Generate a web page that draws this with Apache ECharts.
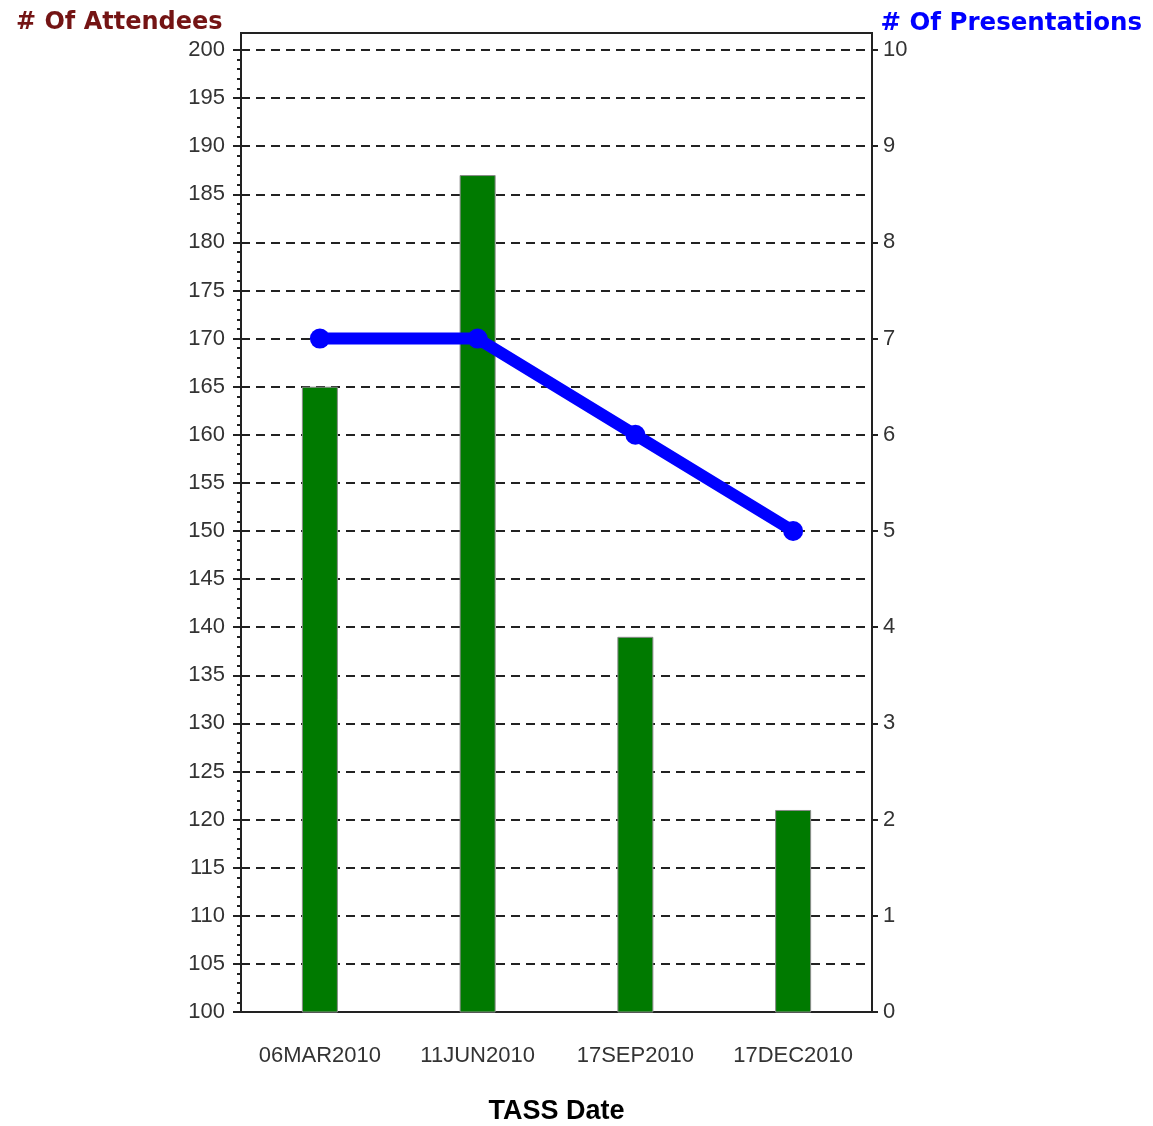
<!DOCTYPE html>
<html>
<head>
<meta charset="utf-8">
<script src="https://cdn.jsdelivr.net/npm/echarts@6/dist/echarts.min.js"></script>
<style>html,body{margin:0;padding:0;background:#fff;}#c{width:1153px;height:1126px;}</style>
</head>
<body>
<div id="c"></div>
<script>
const categories = ['06MAR2010', '11JUN2010', '17SEP2010', '17DEC2010'];
const attendees = [165, 187, 139, 121];
const presentations = [7, 7, 6, 5];
const leftTitle = '# Of Attendees';
const rightTitle = '# Of Presentations';
const xTitle = 'TASS Date';

const chart = echarts.init(document.getElementById('c'));
chart.setOption({
  animation: false,
  backgroundColor: '#fff',
  title: [
    { text: leftTitle, left: 11, top: 6,
      textStyle: { color: '#741414', fontFamily: 'DejaVu Sans', fontWeight: 'bold', fontSize: 24 } },
    { text: rightTitle, right: 6, top: 6,
      textStyle: { color: '#0000ff', fontFamily: 'DejaVu Sans', fontWeight: 'bold', fontSize: 24.5 } }
  ],
  grid: [
    { left: 241, right: 281, top: 33, bottom: 114, show: true, borderColor: '#222', borderWidth: 2, backgroundColor: 'transparent', outerBoundsMode: 'none', containLabel: false },
    { left: 241, right: 281, top: 50, bottom: 114, outerBoundsMode: 'none', containLabel: false }
  ],
  xAxis: [
    { gridIndex: 0, type: 'category', data: categories, show: false },
    { gridIndex: 1, type: 'category', data: categories,
      axisLine: { show: false },
      axisTick: { show: false },
      axisLabel: { interval: 0, color: '#333', fontFamily: 'Liberation Sans', fontSize: 22, margin: 33 },
      name: xTitle, nameLocation: 'middle', nameGap: 86,
      nameTextStyle: { color: '#000', fontFamily: 'Liberation Sans', fontWeight: 'bold', fontSize: 27 }
    }
  ],
  yAxis: [
    { gridIndex: 0, type: 'value', show: false, splitLine: { show: false } },
    { gridIndex: 1, type: 'value', min: 100, max: 200, interval: 5, position: 'left',
      axisLine: { show: true, lineStyle: { color: '#222', width: 2 } },
      axisTick: { show: true, length: 8, lineStyle: { color: '#222', width: 2 } },
      minorTick: { show: true, splitNumber: 5, length: 4, lineStyle: { color: '#222', width: 2 } },
      axisLabel: { color: '#333', fontFamily: 'Liberation Sans', fontSize: 22, margin: 16 },
      splitLine: { show: true, lineStyle: { color: '#222', width: 2, type: [9, 6] } }
    },
    { gridIndex: 1, type: 'value', min: 0, max: 10, interval: 1, position: 'right',
      axisLine: { show: true, lineStyle: { color: '#222', width: 2 } },
      axisTick: { show: true, length: 6, lineStyle: { color: '#222', width: 2 } },
      axisLabel: { color: '#333', fontFamily: 'Liberation Sans', fontSize: 22, margin: 11 },
      splitLine: { show: false }
    }
  ],
  series: [
    { type: 'bar', xAxisIndex: 1, yAxisIndex: 1, data: attendees, barWidth: 36,
      itemStyle: { color: '#007a00', borderColor: '#8a8a8a', borderWidth: 1 }, z: 2 },
    { type: 'line', xAxisIndex: 1, yAxisIndex: 2, data: presentations,
      lineStyle: { color: '#0000ff', width: 12 },
      itemStyle: { color: '#0000ff' },
      symbol: 'circle', symbolSize: 20, z: 3 }
  ]
});
</script>
</body>
</html>
